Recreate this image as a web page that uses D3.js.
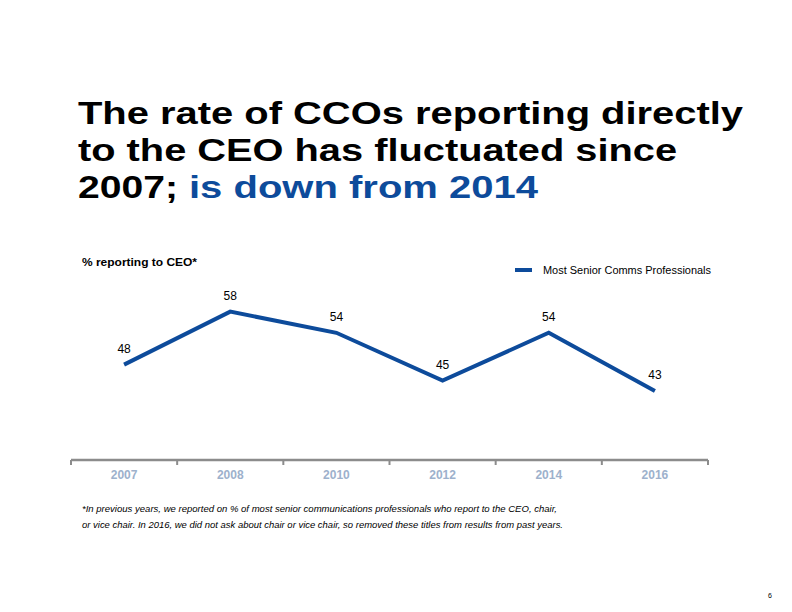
<!DOCTYPE html>
<html>
<head>
  <meta charset="utf-8">
  <script src="https://d3js.org/d3.v7.min.js"></script>
  <style>
    body { margin: 0; background: #fff; }
    text { font-family: "Liberation Sans", Arial, sans-serif; }
  </style>
</head>
<body>
  <svg id="chart" width="792" height="612"></svg>
  <script>
    const years = ["2007", "2008", "2010", "2012", "2014", "2016"];
    const values = [48, 58, 54, 45, 54, 43];
    const seriesName = "Most Senior Comms Professionals";

    const svg = d3.select("svg#chart");
    const blue = "#0D4B9B";

    // title, stretched to the slide's widths
    const fit = (sel, len) => sel.attr("textLength", len).attr("lengthAdjust", "spacingAndGlyphs");

    svg.append("text").attr("x", 78).attr("y", 124)
      .style("font-size", "32px").style("font-weight", "bold")
      .call(fit, 665)
      .text("The rate of CCOs reporting directly");
    svg.append("text").attr("x", 78).attr("y", 161)
      .style("font-size", "32px").style("font-weight", "bold")
      .call(fit, 599)
      .text("to the CEO has fluctuated since");
    svg.append("text").attr("x", 78).attr("y", 198)
      .style("font-size", "32px").style("font-weight", "bold")
      .call(fit, 100)
      .text("2007;");
    svg.append("text").attr("x", 189).attr("y", 198)
      .attr("fill", blue)
      .style("font-size", "32px").style("font-weight", "bold")
      .call(fit, 349)
      .text("is down from 2014");

    svg.append("text")
      .attr("x", 82).attr("y", 266)
      .style("font-size", "11px")
      .style("font-weight", "bold")
      .call(fit, 115)
      .text("% reporting to CEO*");

    // legend
    svg.append("line")
      .attr("x1", 515).attr("x2", 532)
      .attr("y1", 270).attr("y2", 270)
      .attr("stroke", blue).attr("stroke-width", 4);
    svg.append("text")
      .attr("x", 543).attr("y", 274)
      .style("font-size", "10px")
      .call(fit, 168)
      .text(seriesName);

    const x = d3.scaleBand().domain(years).range([71, 708]);
    const y = d3.scaleLinear().domain([40, 60]).range([407, 301]);

    // axis
    const axis = svg.append("g").attr("transform", "translate(0,460)");
    axis.append("line")
      .attr("x1", 71).attr("x2", 708)
      .attr("stroke", "#8c8c8c").attr("stroke-width", 2.5);
    axis.selectAll("line.tick")
      .data(years.map(d => x(d)).concat([708]))
      .join("line")
      .attr("class", "tick")
      .attr("x1", d => d).attr("x2", d => d)
      .attr("y1", 0).attr("y2", 5)
      .attr("stroke", "#8c8c8c").attr("stroke-width", 2);
    axis.selectAll("text")
      .data(years)
      .join("text")
      .attr("x", d => x(d) + x.bandwidth() / 2)
      .attr("y", 19)
      .attr("text-anchor", "middle")
      .attr("fill", "#9db1cc")
      .style("font-size", "12px")
      .style("font-weight", "bold")
      .text(d => d);

    const data = years.map((yr, i) => ({ year: yr, value: values[i] }));
    const line = d3.line()
      .x(d => x(d.year) + x.bandwidth() / 2)
      .y(d => y(d.value));

    svg.append("path")
      .datum(data)
      .attr("d", line)
      .attr("fill", "none")
      .attr("stroke", blue)
      .attr("stroke-width", 4);

    svg.selectAll("text.label")
      .data(data)
      .join("text")
      .attr("class", "label")
      .attr("x", d => x(d.year) + x.bandwidth() / 2)
      .attr("y", d => y(d.value) - 12)
      .attr("text-anchor", "middle")
      .style("font-size", "12px")
      .text(d => d.value);

    // footnote
    svg.append("text")
      .attr("x", 82).attr("y", 512)
      .style("font-size", "9px").style("font-style", "italic")
      .call(fit, 475)
      .text("*In previous years, we reported on % of most senior communications professionals who report to the CEO, chair,");
    svg.append("text")
      .attr("x", 82).attr("y", 528)
      .style("font-size", "9px").style("font-style", "italic")
      .call(fit, 481)
      .text("or vice chair. In 2016, we did not ask about chair or vice chair, so removed these titles from results from past years.");

    svg.append("text")
      .attr("x", 768).attr("y", 598)
      .style("font-size", "7px")
      .text("6");
  </script>
</body>
</html>
